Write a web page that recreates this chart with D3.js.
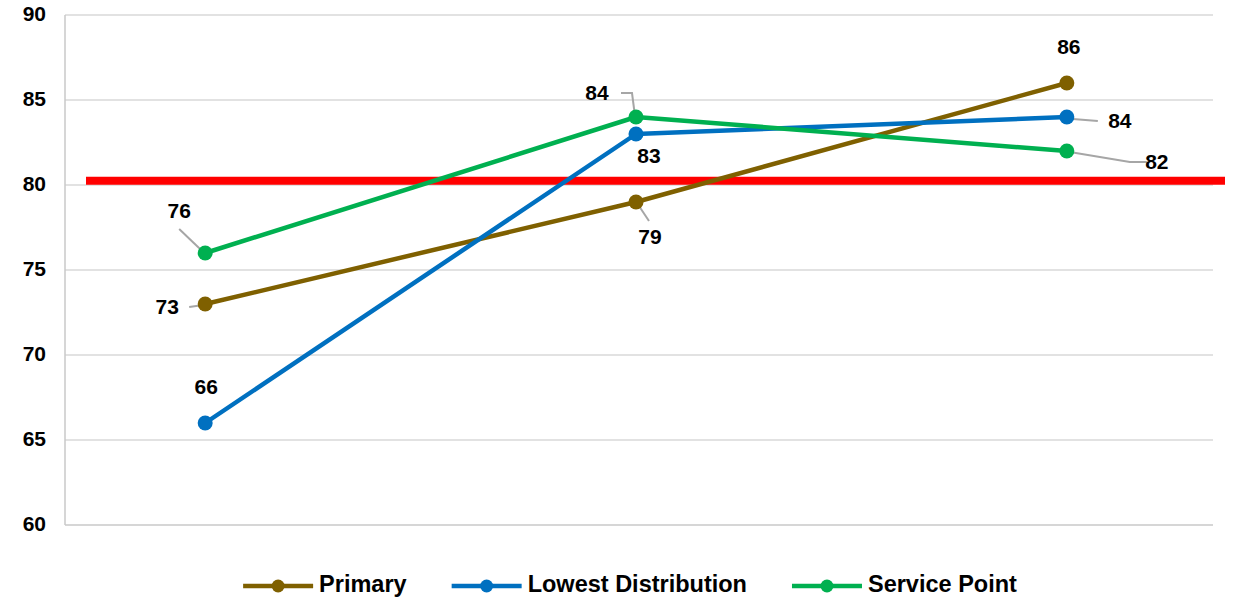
<!DOCTYPE html>
<html>
<head>
<meta charset="utf-8">
<script src="https://cdn.jsdelivr.net/npm/d3@7.9.0/dist/d3.min.js"></script>
<style>
  body { margin: 0; background: #fff; }
  svg { font-family: "Liberation Sans", Arial, sans-serif; font-weight: bold; }
</style>
</head>
<body>
<svg id="chart" width="1234" height="602"></svg>
<script>
// data
const categories = ['A', 'B', 'C'];
const seriesNames = ['Primary', 'Lowest Distribution', 'Service Point'];
const primary = [73, 79, 86];
const lowestDistribution = [66, 83, 84];
const servicePoint = [76, 84, 82];
const target = 80.25;
const yTicks = [60, 65, 70, 75, 80, 85, 90];

const colors = ['#7f6000', '#0070c0', '#00b050'];

// label placement per point: text offset + leader line path (relative to the marker)
const labelStyle = [
  [ {dx: -38, dy: 4, lead: [[-2, 1], [-16, 3]]},
    {dx: 14, dy: 36, lead: [[3, 4], [13, 19]]},
    {dx: 2, dy: -35} ],
  [ {dx: 1, dy: -35},
    {dx: 13, dy: 23},
    {dx: 53, dy: 5, lead: [[6, 2], [31, 4]]} ],
  [ {dx: -26, dy: -41, lead: [[-26, -24], [-3, -2]]},
    {dx: -39, dy: -23, lead: [[-15, -24], [-4, -24], [-1, -1]]},
    {dx: 90, dy: 12, lead: [[3, 1], [63, 11], [80, 11]]} ]
];

const series = [primary, lowestDistribution, servicePoint].map((values, i) => ({
  name: seriesNames[i], color: colors[i], values
}));

const svg = d3.select('#chart');
const margin = {top: 15, right: 21, bottom: 77, left: 65};
const width = 1234 - margin.left - margin.right;
const height = 602 - margin.top - margin.bottom;

const x = d3.scalePoint().domain(categories).range([-2, width - 4]).padding(0.33);
const y = d3.scaleLinear().domain([60, 90]).range([height, 0]);

const g = svg.append('g').attr('transform', `translate(${margin.left},${margin.top})`);

// gridlines
g.selectAll('.grid').data(yTicks.slice(1)).join('line')
  .attr('x1', 0).attr('x2', width)
  .attr('y1', d => y(d)).attr('y2', d => y(d))
  .attr('stroke', '#d9d9d9').attr('stroke-width', 1.5);

// axis lines
g.append('line').attr('x1', 0).attr('x2', width).attr('y1', height).attr('y2', height)
  .attr('stroke', '#c8c8c8').attr('stroke-width', 1.5);
g.append('line').attr('x1', 0).attr('x2', 0).attr('y1', 0).attr('y2', height)
  .attr('stroke', '#c8c8c8').attr('stroke-width', 1.5);

// y tick labels
g.selectAll('.ytick').data(yTicks).join('text')
  .attr('x', -19).attr('y', d => y(d))
  .attr('text-anchor', 'end').attr('dominant-baseline', 'middle')
  .attr('font-size', 21).attr('fill', '#000')
  .text(d => d);

// target line
g.append('line')
  .attr('x1', 21).attr('x2', width + 12)
  .attr('y1', y(target)).attr('y2', y(target))
  .attr('stroke', '#ff0000').attr('stroke-width', 8);

const line = d3.line().x((d, i) => x(categories[i])).y(d => y(d));

series.forEach((s, si) => {
  g.append('path').datum(s.values)
    .attr('d', line)
    .attr('fill', 'none').attr('stroke', s.color).attr('stroke-width', 4.5)
    .attr('stroke-linejoin', 'round');

  s.values.forEach((v, i) => {
    const cx = x(categories[i]), cy = y(v);
    const ls = labelStyle[si][i];
    if (ls.lead) {
      g.append('path')
        .attr('d', d3.line()(ls.lead.map(p => [cx + p[0], cy + p[1]])))
        .attr('fill', 'none').attr('stroke', '#a6a6a6').attr('stroke-width', 2);
    }
  });

  g.selectAll(null).data(s.values).join('circle')
    .attr('cx', (d, i) => x(categories[i])).attr('cy', d => y(d))
    .attr('r', 7.5).attr('fill', s.color);

  g.selectAll(null).data(s.values).join('text')
    .attr('x', (d, i) => x(categories[i]) + labelStyle[si][i].dx)
    .attr('y', (d, i) => y(d) + labelStyle[si][i].dy)
    .attr('text-anchor', 'middle').attr('dominant-baseline', 'middle')
    .attr('font-size', 21).attr('fill', '#000')
    .text(d => d);
});

// legend
const legend = svg.append('g');
let lx = 0;
series.forEach(s => {
  const it = legend.append('g').attr('transform', `translate(${lx},0)`);
  it.append('line').attr('x1', 0).attr('x2', 70).attr('y1', 0).attr('y2', 0)
    .attr('stroke', s.color).attr('stroke-width', 4.5);
  it.append('circle').attr('cx', 35).attr('cy', 0).attr('r', 6.5).attr('fill', s.color);
  const t = it.append('text').attr('x', 76).attr('y', 0)
    .attr('dominant-baseline', 'middle').attr('font-size', 23.5).attr('fill', '#000')
    .text(s.name);
  lx += 76 + t.node().getComputedTextLength() + 45;
});
const legendWidth = lx - 45;
legend.attr('transform', `translate(${630 - legendWidth / 2},586)`);
</script>
</body>
</html>
